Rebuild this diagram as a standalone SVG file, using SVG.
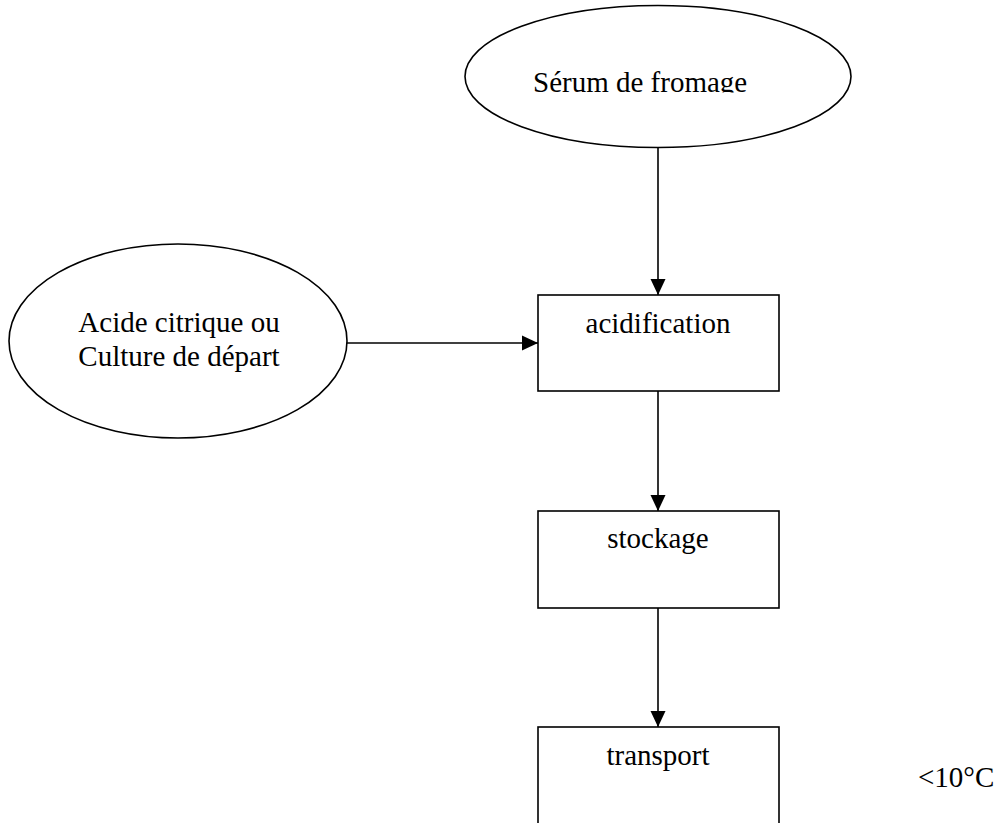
<svg xmlns="http://www.w3.org/2000/svg" width="998" height="823" viewBox="0 0 998 823">
  <style>
    .shape { fill: #ffffff; stroke: #000000; stroke-width: 1.6; }
    .label { font-family: "Liberation Serif", "Times New Roman", serif; font-size: 29px; fill: #000000; }
    .mid { text-anchor: middle; }
    .link { fill: none; stroke: #000000; stroke-width: 1.6; }
  </style>
  <defs>
    <marker id="arrow" markerUnits="userSpaceOnUse" markerWidth="16" markerHeight="16" refX="16" refY="8" orient="auto">
      <path d="M0,0.5 L16,8 L0,15.5 Z" fill="#000000"/>
    </marker>
    <clipPath id="serum-clip">
      <rect x="460" y="0" width="400" height="92.5"/>
    </clipPath>
  </defs>
  <rect width="998" height="823" fill="#ffffff"/>

  <g id="connectors">
    <line class="link" x1="658" y1="147.5" x2="658" y2="295" marker-end="url(#arrow)"/>
    <line class="link" x1="347" y1="343" x2="538" y2="343" marker-end="url(#arrow)"/>
    <line class="link" x1="658" y1="391" x2="658" y2="511" marker-end="url(#arrow)"/>
    <line class="link" x1="658" y1="608" x2="658" y2="727" marker-end="url(#arrow)"/>
  </g>

  <g id="serum">
    <ellipse class="shape" cx="658" cy="76.5" rx="193" ry="71"/>
    <text class="label" x="533" y="92" clip-path="url(#serum-clip)">Sérum de fromage</text>
  </g>

  <g id="acide">
    <ellipse class="shape" cx="178" cy="341" rx="169" ry="97"/>
    <text class="label mid" x="179" y="332">Acide citrique ou</text>
    <text class="label mid" x="179" y="366">Culture de départ</text>
  </g>

  <g id="acidification">
    <rect class="shape" x="538" y="295" width="241" height="96"/>
    <text class="label mid" x="658" y="333">acidification</text>
  </g>

  <g id="stockage">
    <rect class="shape" x="538" y="511" width="241" height="97"/>
    <text class="label mid" x="658" y="548">stockage</text>
  </g>

  <g id="transport">
    <rect class="shape" x="538" y="727" width="241" height="110"/>
    <text class="label mid" x="658" y="765">transport</text>
  </g>

  <g id="temperature">
    <text class="label" x="918" y="787">&lt;10°C</text>
  </g>
</svg>
